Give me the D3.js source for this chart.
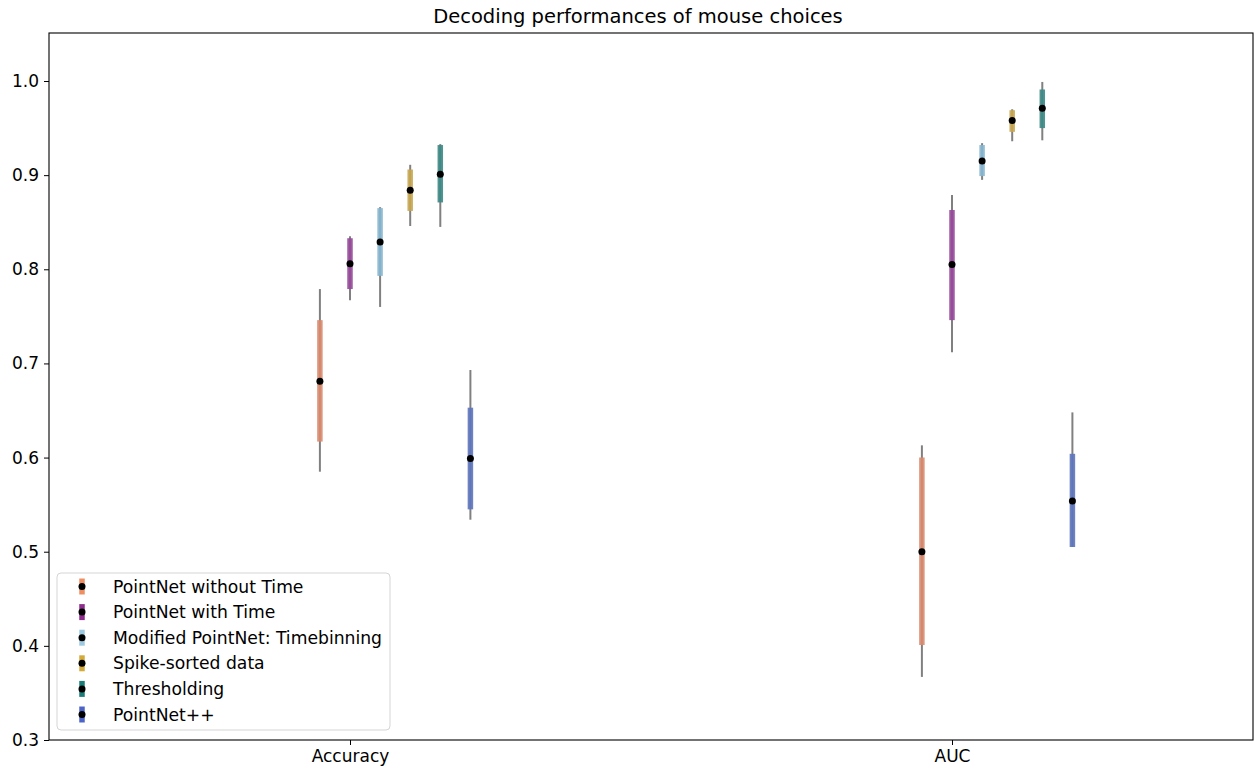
<!DOCTYPE html>
<html>
<head>
<meta charset="utf-8">
<script src="https://cdn.jsdelivr.net/npm/d3@7"></script>
<style>
  html, body { margin: 0; padding: 0; background: #fff; }
  svg { display: block; font-family: "DejaVu Sans", sans-serif; }
</style>
</head>
<body>
<svg id="chart" width="1257" height="767"></svg>
<script>
// ---- data ----
const metrics = ["Accuracy", "AUC"];
const seriesNames = ["PointNet without Time", "PointNet with Time", "Modified PointNet: Timebinning", "Spike-sorted data", "Thresholding", "PointNet++"];
const seriesColors = ["#EE8E63", "#8E2C8E", "#9ECAE1", "#D4AA3A", "#1B7C78", "#4C63C8"];
const boxColors = ["#D98A6E", "#96489A", "#86B6CF", "#C8A650", "#3C8884", "#5C74BC"];
const seriesOffsets = [-0.05, 0, 0.05, 0.1, 0.15, 0.2];
// per series: [Accuracy, AUC]
const meanValues = [[0.681, 0.500], [0.806, 0.805], [0.829, 0.915], [0.884, 0.958], [0.901, 0.971], [0.599, 0.554]];
const boxLow     = [[0.617, 0.401], [0.779, 0.746], [0.793, 0.899], [0.862, 0.946], [0.871, 0.950], [0.545, 0.505]];
const boxHigh    = [[0.746, 0.600], [0.833, 0.863], [0.865, 0.932], [0.906, 0.969], [0.932, 0.991], [0.653, 0.604]];
const whiskLow   = [[0.585, 0.367], [0.767, 0.712], [0.760, 0.895], [0.846, 0.936], [0.845, 0.937], [0.534, 0.505]];
const whiskHigh  = [[0.779, 0.613], [0.835, 0.879], [0.866, 0.934], [0.911, 0.970], [0.933, 0.999], [0.693, 0.648]];
const yTicks = [0.3, 0.4, 0.5, 0.6, 0.7, 0.8, 0.9, 1.0];
const title = "Decoding performances of mouse choices";

// ---- layout ----
const svg = d3.select("#chart");
const L = 49, R = 1253, T = 33, B = 740;
const x = d3.scaleLinear().domain([-0.5, 1.5]).range([L, R]);
const y = d3.scaleLinear().domain([0.3, 1.051]).range([B, T]);

// marks
const marks = [];
seriesNames.forEach((name, s) => {
  metrics.forEach((m, i) => {
    marks.push({s, xv: i + seriesOffsets[s], mean: meanValues[s][i],
      bl: boxLow[s][i], bh: boxHigh[s][i], wl: whiskLow[s][i], wh: whiskHigh[s][i]});
  });
});
const g = svg.append("g");
g.selectAll("line.wh").data(marks).join("line")
  .attr("x1", d => x(d.xv)).attr("x2", d => x(d.xv))
  .attr("y1", d => y(d.wl)).attr("y2", d => y(d.wh))
  .attr("stroke", "#808080").attr("stroke-width", 2);
g.selectAll("line.bx").data(marks).join("line")
  .attr("x1", d => x(d.xv)).attr("x2", d => x(d.xv))
  .attr("y1", d => y(d.bl)).attr("y2", d => y(d.bh))
  .attr("stroke", d => boxColors[d.s]).attr("stroke-width", 5.5)
  .attr("stroke-opacity", 0.9);
g.selectAll("circle").data(marks).join("circle")
  .attr("cx", d => x(d.xv)).attr("cy", d => y(d.mean)).attr("r", 3.5)
  .attr("fill", "#000");

// axes
const xAxis = svg.append("g").attr("transform", `translate(0,${B})`)
  .call(d3.axisBottom(x).tickValues([0, 1]).tickFormat(i => metrics[i]).tickSize(5).tickPadding(5));
const yAxis = svg.append("g").attr("transform", `translate(${L},0)`)
  .call(d3.axisLeft(y).tickValues(yTicks).tickFormat(d3.format(".1f")).tickSize(5).tickPadding(5));
[xAxis, yAxis].forEach(a => {
  a.select(".domain").remove();
  a.selectAll("text").attr("font-size", 17).attr("font-family", "DejaVu Sans, sans-serif").attr("fill", "#000");
  a.selectAll("line").attr("stroke", "#000");
});
svg.append("rect").attr("x", L).attr("y", T).attr("width", R - L).attr("height", B - T)
  .attr("fill", "none").attr("stroke", "#000").attr("stroke-width", 1.1);

// title
svg.append("text").attr("x", 638).attr("y", 23).attr("text-anchor", "middle")
  .attr("font-size", 19.5).attr("fill", "#000").text(title);

// legend
const lg = svg.append("g");
lg.append("rect").attr("x", 57).attr("y", 573).attr("width", 333).attr("height", 157)
  .attr("rx", 4).attr("fill", "#fff").attr("fill-opacity", 0.8).attr("stroke", "#d5d5d5");
seriesNames.forEach((name, s) => {
  const cy = 586.5 + s * 25.6;
  lg.append("line").attr("x1", 82).attr("x2", 82).attr("y1", cy - 8).attr("y2", cy + 8)
    .attr("stroke", seriesColors[s]).attr("stroke-width", 5.5);
  lg.append("circle").attr("cx", 82).attr("cy", cy).attr("r", 3.5).attr("fill", "#000");
  lg.append("text").attr("x", 113).attr("y", cy).attr("dy", "0.35em")
    .attr("font-size", 17.2).attr("fill", "#000").text(name);
});
</script>
</body>
</html>
